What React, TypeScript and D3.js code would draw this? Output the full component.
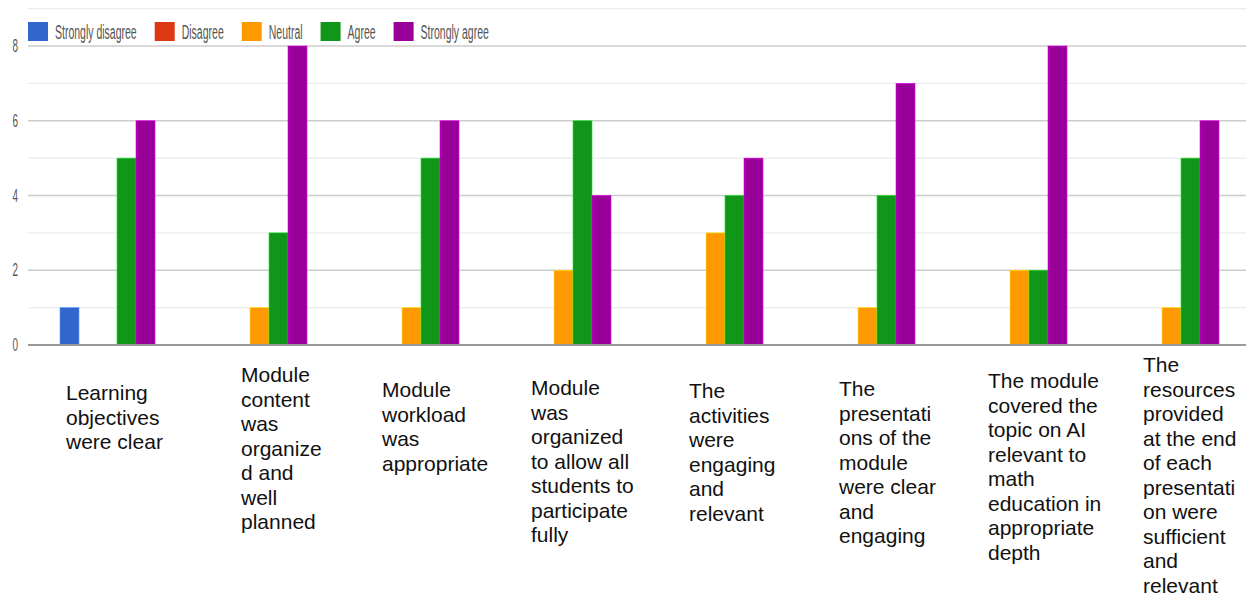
import React from 'react';
import * as d3 from 'd3';

// survey statements (line breaks as they wrap in the original)
const categories = [
  'Learning\nobjectives\nwere clear',
  'Module\ncontent\nwas\norganize\nd and\nwell\nplanned',
  'Module\nworkload\nwas\nappropriate',
  'Module\nwas\norganized\nto allow all\nstudents to\nparticipate\nfully',
  'The\nactivities\nwere\nengaging\nand\nrelevant',
  'The\npresentati\nons of the\nmodule\nwere clear\nand\nengaging',
  'The module\ncovered the\ntopic on AI\nrelevant to\nmath\neducation in\nappropriate\ndepth',
  'The\nresources\nprovided\nat the end\nof each\npresentati\non were\nsufficient\nand\nrelevant',
];

const series = ['Strongly disagree', 'Disagree', 'Neutral', 'Agree', 'Strongly agree'];
const colors = ['#3366cc', '#dc3912', '#ff9900', '#109618', '#990099'];

const stronglyDisagree = [1, 0, 0, 0, 0, 0, 0, 0];
const disagree = [0, 0, 0, 0, 0, 0, 0, 0];
const neutral = [0, 1, 1, 2, 3, 1, 2, 1];
const agree = [5, 3, 5, 6, 4, 4, 2, 5];
const stronglyAgree = [6, 8, 6, 4, 5, 7, 8, 6];
const values = [stronglyDisagree, disagree, neutral, agree, stronglyAgree];

const yTicks = [0, 2, 4, 6, 8];

// where each label block sits: x offset inside the group, first baseline
const labelDx = [6, 29, 18, 15, 21, 19, 16, 19];
const labelY = [400, 382, 397, 395, 398, 396, 388, 372];

const W = 1246;
const H = 597;

export default function App() {
  const x0 = d3.scaleBand<number>().domain(d3.range(categories.length)).range([30, 1246]);
  const x1 = d3.scaleBand<string>().domain(series).range([30, 125]);
  const y = d3.scaleLinear().domain([0, 8]).range([345, 46]);

  // legend layout: square 20, text gap 7, item gap 18
  const squish = 0.5;
  const legendFont = 21;
  const ctx = document.createElement('canvas').getContext('2d');
  if (ctx) ctx.font = `${legendFont}px "Liberation Sans", Arial, sans-serif`;
  let lx = 28;
  const legendItems = series.map((s, i) => {
    const tw = (ctx ? ctx.measureText(s).width : s.length * 10) * squish;
    const item = { s, i, x: lx };
    lx += 20 + 7 + tw + 18;
    return item;
  });

  return (
    <svg width={W} height={H} style={{ position: 'absolute', left: 0, top: 0, background: '#fff' }}
      fontFamily='"Liberation Sans", Arial, sans-serif'>
      {/* gridlines */}
      {d3.range(1, 10).map(v => (
        <line key={v} x1={28} x2={W} y1={y(v)} y2={y(v)}
          stroke={v % 2 === 0 ? '#cccccc' : '#ebebeb'} strokeWidth={1.3} />
      ))}
      {/* y tick labels */}
      {yTicks.map(t => (
        <text key={t} transform={`translate(18,${y(t)}) scale(0.55,1)`} textAnchor="end"
          dominantBaseline="central" fontSize={18} fill="#555">{t}</text>
      ))}
      {/* legend */}
      {legendItems.map(it => (
        <g key={it.s}>
          <rect x={it.x} y={22} width={20} height={19} fill={colors[it.i]} />
          <text transform={`translate(${it.x + 27},32) scale(${squish},1)`} dominantBaseline="central"
            fontSize={legendFont} fill="#555">{it.s}</text>
        </g>
      ))}
      {/* bars */}
      {categories.map((c, ci) => (
        <g key={ci} transform={`translate(${x0(ci)},0)`}>
          {series.map((s, si) => {
            const v = values[si][ci];
            if (!v) return null;
            return (
              <rect key={s} x={x1(s)} y={y(v)} width={x1.bandwidth()} height={y(0) - y(v)}
                fill={colors[si]} stroke={d3.color(colors[si])!.brighter(1.2).formatHex()}
                strokeWidth={0.6} />
            );
          })}
        </g>
      ))}
      {/* baseline */}
      <line x1={28} x2={W} y1={y(0)} y2={y(0)} stroke="#9a9a9a" strokeWidth={2} />
      {/* category labels */}
      {categories.map((c, ci) => (
        <text key={ci} x={(x0(ci) ?? 0) + 30 + labelDx[ci]} y={labelY[ci]} fontSize={21} fill="#111">
          {c.split('\n').map((ln, li) => (
            <tspan key={li} x={(x0(ci) ?? 0) + 30 + labelDx[ci]} dy={li === 0 ? 0 : 24.5}>{ln}</tspan>
          ))}
        </text>
      ))}
    </svg>
  );
}
